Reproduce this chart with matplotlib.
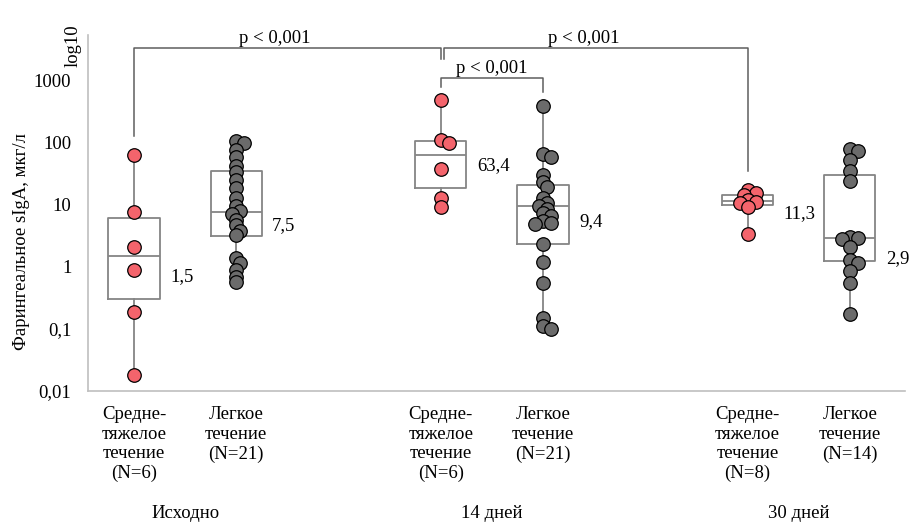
import numpy as np
import matplotlib.pyplot as plt

plt.rcParams['font.family'] = ['Liberation Serif', 'DejaVu Serif']
plt.rcParams['font.size'] = 13.5

# Individual measurements, мкг/л
baseline_mod = [63, 7.6, 2.1, 0.87, 0.185, 0.018]
baseline_mild = [105, 98, 76, 58, 42, 33.6, 25, 18.6, 12.9, 9.6, 7.9, 6.9,
                 5.7, 4.6, 3.8, 3.2, 1.4, 1.16, 0.87, 0.69, 0.56]
day14_mod = [480, 109, 97, 37, 12.7, 9.0]
day14_mild = [385, 65, 58, 30, 23, 19, 12.7, 10.5, 9.4, 8.5, 7.3, 6.5,
              5.5, 5.1, 4.8, 2.3, 1.2, 0.55, 0.15, 0.11, 0.1]
day30_mod = [17.3, 15.5, 14.2, 12, 11, 10.5, 9.0, 3.3]
day30_mild = [78, 72, 52, 34, 23.5, 3.0, 2.9, 2.8, 2.1, 1.3, 1.15, 0.84, 0.55, 0.17]

groups = [baseline_mod, baseline_mild, day14_mod, day14_mild, day30_mod, day30_mild]
severity = ['mod', 'mild', 'mod', 'mild', 'mod', 'mild']

# box summaries: (q1, median, q3)
box_q1 = [0.30, 3.16, 18.4, 2.35, 9.7, 1.22]
box_med = [1.5, 7.5, 63.4, 9.4, 11.3, 2.9]
box_q3 = [6.1, 34.9, 106, 20.3, 14.0, 30]
median_labels = ['1,5', '7,5', '63,4', '9,4', '11,3', '2,9']

cat_labels = ['Средне-\nтяжелое\nтечение\n(N=6)', 'Легкое\nтечение\n(N=21)',
              'Средне-\nтяжелое\nтечение\n(N=6)', 'Легкое\nтечение\n(N=21)',
              'Средне-\nтяжелое\nтечение\n(N=8)', 'Легкое\nтечение\n(N=14)']
period_labels = ['Исходно', '14 дней', '30 дней']

# significance brackets: (left group, right group, bar level, left leg end, right leg end)
brackets = [(0, 2, 3250, 124, 2170),
            (2, 4, 3250, 2170, 34),
            (2, 3, 1075, 787, 654)]
p_text = 'p < 0,001'

positions = [1, 2, 4, 5, 7, 8]
colors = {'mod': '#F4646C', 'mild': '#6B6B6B'}
serif = ['Liberation Serif', 'DejaVu Serif']

W, H = 909, 523
fig = plt.figure(figsize=(W / 100, H / 100), dpi=100)
ax = fig.add_axes([88 / W, 1 - 391 / H, (905 - 88) / W, (391 - 35) / H])
ax.set_yscale('log')
ax.set_ylim(0.01, 5300)
ax.set_xlim(0.55, 8.54)

stats = []
for vals, q1, med, q3 in zip(groups, box_q1, box_med, box_q3):
    stats.append(dict(med=med, q1=q1, q3=q3, whislo=min(vals), whishi=max(vals), fliers=[]))
line_kw = dict(color='#858585', linewidth=1.3)
ax.bxp(stats, positions=positions, widths=0.5, showcaps=False, showfliers=False,
       boxprops=line_kw, whiskerprops=line_kw, medianprops=line_kw, manage_ticks=False)


def swarm(values, step_px=4.0, min_dist=5.5, px_per_decade=62.3, px_per_unit=102.3):
    # small sideways shifts so that stacked points stay visible
    placed = []
    offsets = {}
    for i in np.argsort(values)[::-1]:
        y = np.log10(values[i]) * px_per_decade
        for off in [0, step_px, -step_px, 2 * step_px, -2 * step_px, 3 * step_px]:
            if all(np.hypot(off - ox, y - oy) >= min_dist for ox, oy in placed):
                break
        placed.append((off, y))
        offsets[i] = off / px_per_unit
    return [offsets[i] for i in range(len(values))]


for pos, vals, sev in zip(positions, groups, severity):
    offs = swarm(vals)
    ax.scatter([pos + o for o in offs], vals, s=95, color=colors[sev],
               edgecolor='black', linewidth=0.9, zorder=3)

# median values next to the boxes
label_dy = [-15, -10, -8, -11, -9, -15]
for pos, med, txt, dy in zip(positions, box_med, median_labels, label_dy):
    ax.annotate(txt, (pos + 0.25, med), xytext=(7.5, dy), textcoords='offset points',
                ha='left', va='center', fontsize=13.5)

br_kw = dict(color='#5E5E5E', linewidth=1.1)
for i, (a, b, level, lo_a, lo_b) in enumerate(brackets):
    xa = positions[a] + (0.03 if i == 1 else 0)
    xb = positions[b]
    ax.plot([xa, xa, xb, xb], [lo_a, level, level, lo_b], **br_kw)
    ax.text((xa + xb) / 2 - (0.12 if b - a > 1 else 0), level * 1.05, p_text,
            ha='center', va='bottom', fontsize=13.5)

ax.set_yticks([0.01, 0.1, 1, 10, 100, 1000])
ax.set_yticklabels(['0,01', '0,1', '1', '10', '100', '1000'])
ax.minorticks_off()
ax.tick_params(axis='y', length=0, pad=12)
ax.set_xticks(positions)
ax.set_xticklabels(cat_labels, linespacing=1.2, family=serif)
ax.tick_params(axis='x', length=0, pad=11)

for side in ['top', 'right']:
    ax.spines[side].set_visible(False)
for side in ['left', 'bottom']:
    ax.spines[side].set_color('#BFBFBF')
    ax.spines[side].set_linewidth(1.2)

for (a, b), name in zip([(0, 1), (2, 3), (4, 5)], period_labels):
    ax.text((positions[a] + positions[b]) / 2, -0.345, name, transform=ax.get_xaxis_transform(),
            ha='center', va='center', fontsize=13.5)

fig.text(73 / W, 1 - 46 / H, 'log10', rotation=90, ha='center', va='center', fontsize=13.5)
fig.text(22 / W, 1 - 242 / H, 'Фарингеальное sIgA, мкг/л', rotation=90,
         ha='center', va='center', fontsize=13.5)

fig.savefig('out.png', dpi=100)
